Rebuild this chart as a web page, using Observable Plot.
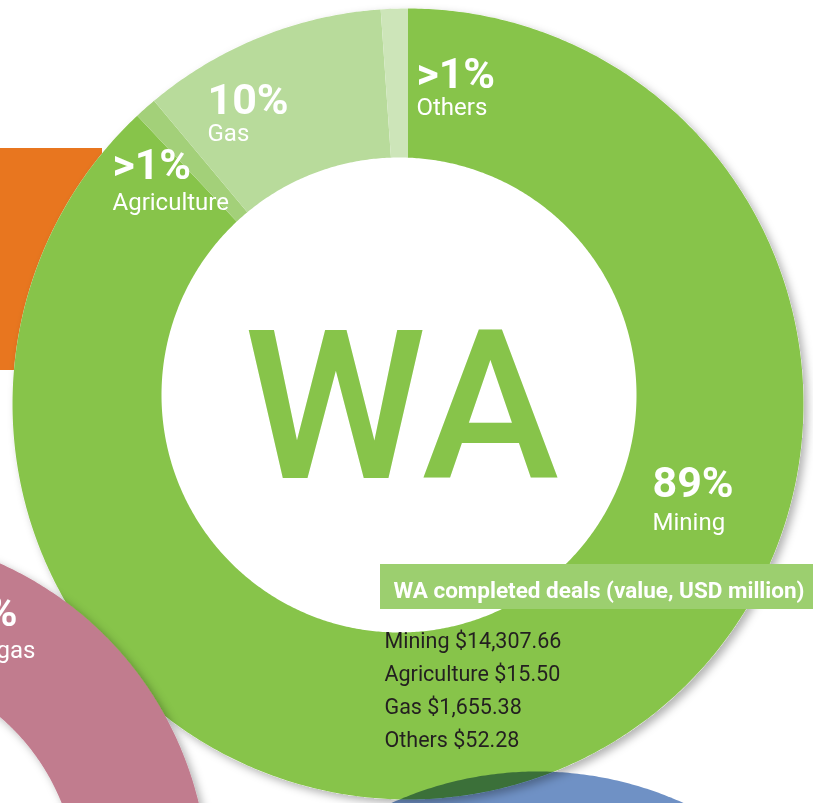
<!DOCTYPE html>
<html><head><meta charset="utf-8">
<script src="https://cdn.jsdelivr.net/npm/d3@7"></script>
<script src="https://cdn.jsdelivr.net/npm/@observablehq/plot@0.6"></script>
<style>html,body{margin:0;padding:0;background:#fff;overflow:hidden}</style>
</head><body><div id="chart"></div>
<script>
// ---- data ----
const sectors = ["Mining", "Agriculture", "Gas", "Others"];
const sliceShares = [88.0, 0.9, 10.0, 1.1];          // ring share as drawn (%)
const pctLabels = ["89%", ">1%", "10%", ">1%"];
const dealValues = [14307.66, 15.50, 1655.38, 52.28]; // USD million
const sliceColors = ["#87c44a", "#a3d079", "#b8db9b", "#cde5b9"];
const centerLabel = "WA";
const boxTitle = "WA completed deals (value, USD million)";
const neighbourLabels = ["%", "gas"];

// ---- layout ----
const W = 813, H = 803;
const ring = {cx: 407.5, cy: 403.5, R: 395.5};
const hole = {cx: 398.5, cy: 394.5, r: 237.5};
const pinkRing = {cx: -145, cy: 885, R: 353, r: 222};
const blueDisk = {cx: 537, cy: 1125, R: 354};
const orangeBlock = {x1: 0, x2: 102, y1: 148, y2: 370};
const titleBox = {x1: 380, x2: 813, y1: 564, y2: 609};
const labelPos = [[652, 496, 529], [112, 178, 209], [207, 113, 140], [416, 87, 114]];
const listPos = {x: 384, y0: 647, dy: 33};
const font = "Roboto, 'Liberation Sans', sans-serif";

const rad = d => d * Math.PI / 180;
function arcPoints(c, R, a0, a1) {
  const n = Math.max(2, Math.ceil(Math.abs(a1 - a0) / 0.5));
  return d3.range(n + 1).map(k => {
    const t = rad(a0 + (a1 - a0) * k / n);
    return [c.cx + R * Math.sin(t), c.cy - R * Math.cos(t)];
  });
}
function innerPoints(o, h, a0, a1) {
  const n = Math.max(2, Math.ceil(Math.abs(a1 - a0) / 0.5));
  const dx = o.cx - h.cx, dy = o.cy - h.cy;
  return d3.range(n + 1).map(k => {
    const t = rad(a0 + (a1 - a0) * k / n);
    const ux = Math.sin(t), uy = -Math.cos(t);
    const b = ux * dx + uy * dy;
    const s = -b + Math.sqrt(b * b - (dx * dx + dy * dy) + h.r * h.r);
    return [o.cx + s * ux, o.cy + s * uy];
  });
}
function annulus(key, o, R, h, a0, a1) {
  return [...arcPoints(o, R, a0, a1), ...innerPoints(o, h, a1, a0)]
    .map(([x, y]) => ({key, x, y}));
}

// slices
const ends = d3.cumsum(sliceShares).map(v => v * 3.6);
const slices = sectors.flatMap((s, i) =>
  annulus(s, ring, ring.R, hole, i ? ends[i - 1] : 0, ends[i]));
const shadowDisk = arcPoints(ring, ring.R, 0, 360).map(([x, y]) => ({x, y}));
const pink = annulus("pink", pinkRing, pinkRing.R,
  {cx: pinkRing.cx, cy: pinkRing.cy, r: pinkRing.r}, 0, 360);
const blue = arcPoints(blueDisk, blueDisk.R, 0, 360).map(([x, y]) => ({x, y}));

const labels = sectors.map((s, i) => ({s, pct: pctLabels[i], x: labelPos[i][0], y1: labelPos[i][1], y2: labelPos[i][2]}));
const fmt = d3.format(",.2f");
const list = sectors.map((s, i) => ({t: `${s} $${fmt(dealValues[i])}`, y: listPos.y0 + i * listPos.dy}));

const chart = Plot.plot({
  width: W, height: H, margin: 0,
  x: {domain: [0, W], range: [0, W], axis: null},
  y: {domain: [0, H], range: [0, H], axis: null},
  color: {domain: sectors, range: sliceColors},
  style: {background: "#fff", fontFamily: font},
  marks: [
    Plot.rect([orangeBlock], {x1: "x1", x2: "x2", y1: "y1", y2: "y2", fill: "#e8761f"}),
    Plot.line(shadowDisk, {x: "x", y: "y", fill: "#fff", stroke: "none", ariaDescription: "shadow"}),
    Plot.line(slices, {x: "x", y: "y", z: "key", fill: "key", stroke: "none"}),
    Plot.line(pink, {x: "x", y: "y", fill: "#c17b8e", stroke: "none", mixBlendMode: "multiply", ariaDescription: "shadow"}),
    Plot.line(blue, {x: "x", y: "y", fill: "#6f91c5", stroke: "none", mixBlendMode: "multiply"}),
    Plot.rect([titleBox], {x1: "x1", x2: "x2", y1: "y1", y2: "y2", fill: "#9ccf6f"}),
    Plot.text([centerLabel], {x: 401, y: 477, text: d => d, fontSize: 207, fontWeight: 500, fill: sliceColors[0], lineAnchor: "bottom", textAnchor: "middle", fontFamily: font}),
    Plot.text(labels, {x: "x", y: "y1", text: "pct", fontSize: 43, fontWeight: "bold", fill: "#fff", lineAnchor: "bottom", textAnchor: "start", fontFamily: font}),
    Plot.text(labels, {x: "x", y: "y2", text: "s", fontSize: 24, fill: "#fff", lineAnchor: "bottom", textAnchor: "start", fontFamily: font}),
    Plot.text([boxTitle], {x: 393, y: 597, text: d => d, fontSize: 22.5, fontWeight: "bold", fill: "#fff", lineAnchor: "bottom", textAnchor: "start", fontFamily: font}),
    Plot.text(list, {x: listPos.x, y: "y", text: "t", fontSize: 21.5, fill: "#231f20", lineAnchor: "bottom", textAnchor: "start", fontFamily: font}),
    Plot.text([neighbourLabels[0]], {x: 17, y: 625, text: d => d, fontSize: 43, fontWeight: "bold", fill: "#fff", lineAnchor: "bottom", textAnchor: "end", fontFamily: font}),
    Plot.text([neighbourLabels[1]], {x: 35, y: 657, text: d => d, fontSize: 24, fill: "#fff", lineAnchor: "bottom", textAnchor: "end", fontFamily: font})
  ]
});

const svg = d3.select(chart);
const f = svg.insert("defs", ":first-child").append("filter")
  .attr("id", "sh").attr("x", "-10%").attr("y", "-10%").attr("width", "125%").attr("height", "125%");
f.append("feDropShadow").attr("dx", 4).attr("dy", 4).attr("stdDeviation", 4)
  .attr("flood-color", "#000").attr("flood-opacity", 0.3);
svg.selectAll('[aria-description="shadow"]').attr("filter", "url(#sh)");
document.getElementById("chart").append(chart);
</script></body></html>
